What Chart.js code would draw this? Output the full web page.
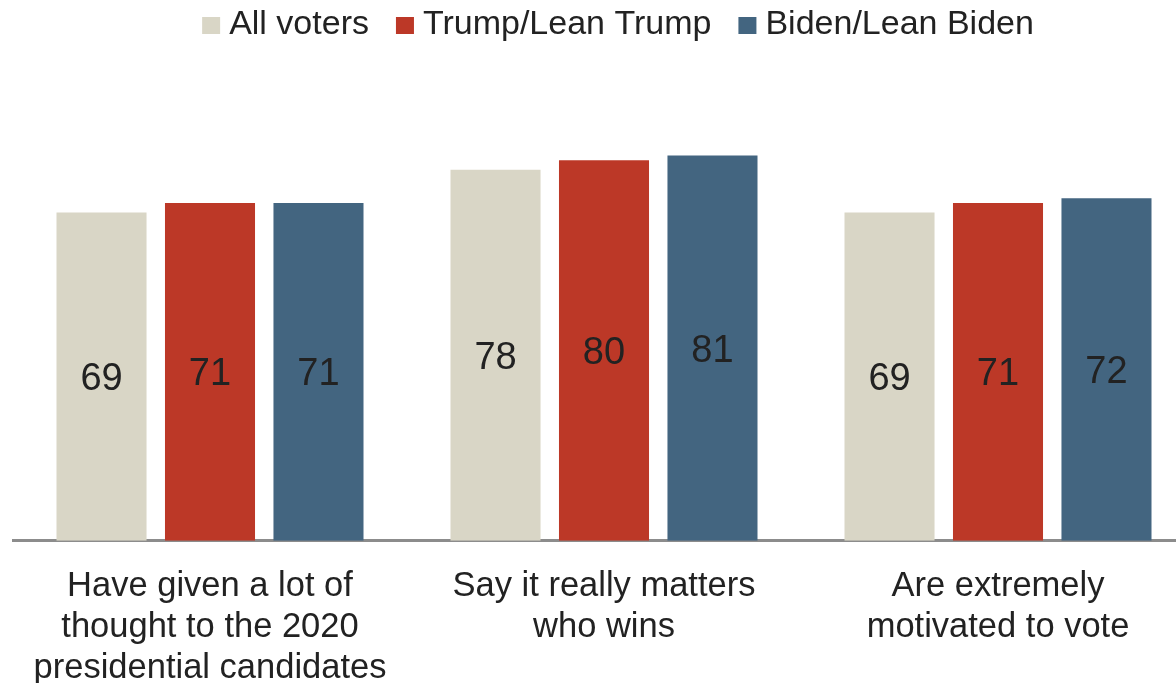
<!DOCTYPE html>
<html>
<head>
<meta charset="utf-8">
<script src="https://cdn.jsdelivr.net/npm/chart.js@4/dist/chart.umd.min.js"></script>
<style>
  html, body { margin: 0; padding: 0; background: #fff; overflow: hidden; }
  #wrap { position: relative; width: 1195px; height: 714px; }
</style>
</head>
<body>
<div id="wrap"><canvas id="survey"></canvas></div>
<script>
// 調査データ
const categories = [
    ["Have given a lot of", "thought to the 2020", "presidential candidates"],
    ["Say it really matters", "who wins"],
    ["Are extremely", "motivated to vote"]
];
const seriesNames = ["All voters", "Trump/Lean Trump", "Biden/Lean Biden"];
const allVoters = [69, 78, 69];
const trumpLean = [71, 80, 71];
const bidenLean = [71, 81, 72];
const seriesColors = ["#d9d6c6", "#bc3827", "#436580"];

const FONT = '"Liberation Sans", Arial, sans-serif';

// バーの中央に数値を描くプラグイン
const valueLabels = {
    id: 'valueLabels',
    afterDatasetsDraw(chart) {
        const ctx = chart.ctx;
        ctx.save();
        ctx.font = '38px ' + FONT;
        ctx.fillStyle = '#222';
        ctx.textAlign = 'center';
        ctx.textBaseline = 'middle';
        chart.data.datasets.forEach((ds, i) => {
            chart.getDatasetMeta(i).data.forEach((bar, j) => {
                const p = bar.getProps(['x', 'y', 'base'], true);
                ctx.fillText(ds.data[j], p.x, (p.y + p.base) / 2 + 3);
            });
        });
        ctx.restore();
    }
};

// 上部の凡例（四角と文字の間隔を詰めるため自前で描く）
const topLegend = {
    id: 'topLegend',
    afterDraw(chart) {
        const ctx = chart.ctx;
        const box = 18, gapText = 9, gapItem = 27, centerX = 618, y = 25;
        ctx.save();
        ctx.font = '34px ' + FONT;
        ctx.textBaseline = 'middle';
        const items = chart.data.datasets.map(ds => ({
            label: ds.label, color: ds.backgroundColor, w: ctx.measureText(ds.label).width
        }));
        let total = items.reduce((s, it) => s + box + gapText + it.w, 0) + gapItem * (items.length - 1);
        let x = centerX - total / 2;
        items.forEach(it => {
            ctx.fillStyle = it.color;
            ctx.fillRect(x, y - 8, box, 17);
            x += box + gapText;
            ctx.fillStyle = '#222';
            ctx.fillText(it.label, x, y);
            x += it.w + gapItem;
        });
        ctx.restore();
    }
};

function makeDataset(label, data, color) {
    return {
        label: label,
        data: data,
        backgroundColor: color,
        borderWidth: 0,
        barPercentage: 0.83,
        categoryPercentage: 0.826
    };
}

function initChart() {
    const ctx = document.getElementById('survey').getContext('2d');
    return new Chart(ctx, {
        type: 'bar',
        data: {
            labels: categories,
            datasets: [
                makeDataset(seriesNames[0], allVoters, seriesColors[0]),
                makeDataset(seriesNames[1], trumpLean, seriesColors[1]),
                makeDataset(seriesNames[2], bidenLean, seriesColors[2])
            ]
        },
        options: {
            responsive: true,
            maintainAspectRatio: false,
            animation: false,
            layout: { padding: { left: 13, right: 0, top: 65, bottom: 0 } },
            plugins: {
                legend: { display: false },
                tooltip: { enabled: false }
            },
            scales: {
                x: {
                    grid: { display: false, drawTicks: false },
                    border: { color: '#8c8c8c', width: 3 },
                    ticks: {
                        color: '#222',
                        padding: 25,
                        maxRotation: 0,
                        font: { family: FONT, size: 34.5, lineHeight: 1.19 }
                    }
                },
                y: {
                    display: false,
                    min: 0,
                    max: 100
                }
            }
        },
        plugins: [valueLabels, topLegend]
    });
}

document.addEventListener('DOMContentLoaded', function() {
    window.surveyChart = initChart();
});
</script>
</body>
</html>
